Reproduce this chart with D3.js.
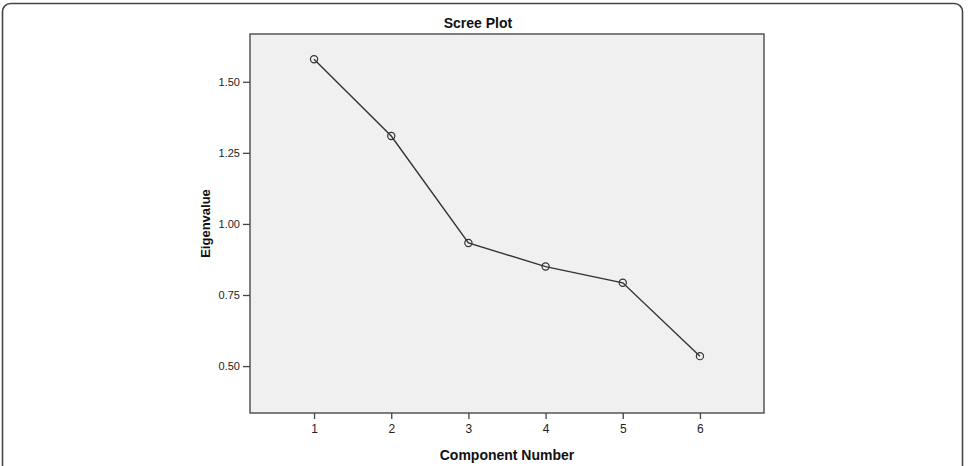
<!DOCTYPE html>
<html>
<head>
<meta charset="utf-8">
<script src="https://cdn.jsdelivr.net/npm/d3@7"></script>
<style>
  body { margin: 0; background: #fff; }
  svg { display: block; font-family: Arial, "Liberation Sans", sans-serif; }
</style>
</head>
<body>
<svg id="chart" width="971" height="466"></svg>
<script>
const components = [1, 2, 3, 4, 5, 6];
const eigenvalues = [1.579, 1.309, 0.933, 0.850, 0.793, 0.535];
const yTicks = [0.50, 0.75, 1.00, 1.25, 1.50];

const svg = d3.select('#chart');
const plot = { left: 250, top: 34, right: 764, bottom: 413 };

// outer rounded frame (bottom runs off the picture)
svg.append('rect')
    .attr('x', 2.5).attr('y', 3.5)
    .attr('width', 960).attr('height', 480)
    .attr('rx', 8)
    .attr('fill', '#fff')
    .attr('stroke', '#444')
    .attr('stroke-width', 1.6);

const x = d3.scaleLinear().domain([0.17, 6.83]).range([plot.left, plot.right]);
const y = d3.scaleLinear().domain([0.335, 1.668]).range([plot.bottom, plot.top]);

svg.append('rect')
    .attr('x', plot.left).attr('y', plot.top)
    .attr('width', plot.right - plot.left).attr('height', plot.bottom - plot.top)
    .attr('fill', '#f0f0f0')
    .attr('stroke', '#555')
    .attr('stroke-width', 1.5);

const xAxis = svg.append('g')
    .attr('transform', `translate(0,${plot.bottom})`)
    .call(d3.axisBottom(x).tickValues(components).tickSize(6).tickPadding(5).tickFormat(d3.format('d')));
const yAxis = svg.append('g')
    .attr('transform', `translate(${plot.left},0)`)
    .call(d3.axisLeft(y).tickValues(yTicks).tickSize(7).tickPadding(3).tickFormat(d3.format('.2f')));

[xAxis, yAxis].forEach(ax => {
  ax.select('.domain').remove();
  ax.selectAll('.tick line').attr('stroke', '#444').attr('stroke-width', 1.3);
  ax.selectAll('.tick text').attr('fill', '#222').attr('font-size', '11px')
    .attr('font-family', 'Arial, "Liberation Sans", sans-serif');
});
xAxis.selectAll('.tick text').attr('font-size', '12px');

const line = d3.line()
    .x((d, i) => x(components[i]))
    .y(d => y(d));

svg.append('path')
    .datum(eigenvalues)
    .attr('fill', 'none')
    .attr('stroke', '#333')
    .attr('stroke-width', 1.4)
    .attr('d', line);

svg.append('g')
  .selectAll('circle')
  .data(eigenvalues)
  .join('circle')
    .attr('cx', (d, i) => x(components[i]))
    .attr('cy', d => y(d))
    .attr('r', 3.6)
    .attr('fill', 'none')
    .attr('stroke', '#333')
    .attr('stroke-width', 1.2);

svg.append('text')
    .attr('x', 478)
    .attr('y', 28)
    .attr('text-anchor', 'middle')
    .attr('font-size', '14px')
    .attr('font-weight', 'bold')
    .attr('fill', '#111')
    .text('Scree Plot');

svg.append('text')
    .attr('x', (plot.left + plot.right) / 2)
    .attr('y', 460)
    .attr('text-anchor', 'middle')
    .attr('font-size', '14px')
    .attr('font-weight', 'bold')
    .attr('fill', '#111')
    .text('Component Number');

svg.append('text')
    .attr('transform', `translate(210,${(plot.top + plot.bottom) / 2}) rotate(-90)`)
    .attr('text-anchor', 'middle')
    .attr('font-size', '13px')
    .attr('font-weight', 'bold')
    .attr('fill', '#111')
    .text('Eigenvalue');
</script>
</body>
</html>
